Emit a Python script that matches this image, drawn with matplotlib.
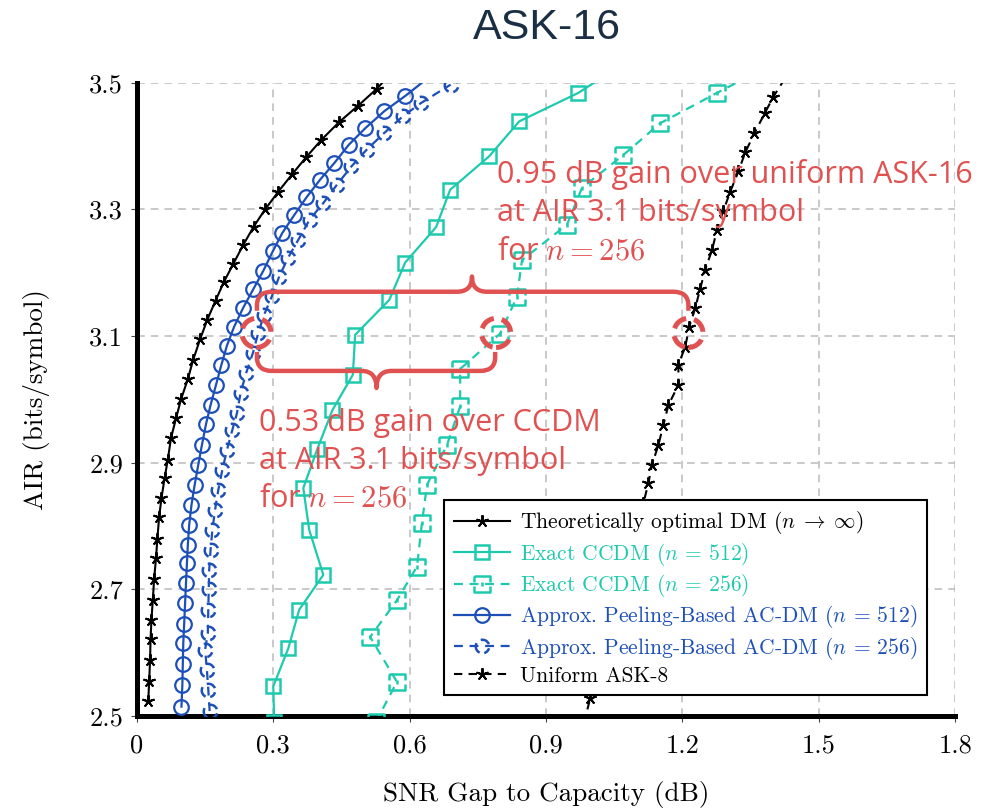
import numpy as np
import matplotlib.pyplot as plt
from matplotlib.path import Path
from matplotlib.patches import PathPatch, Ellipse

plt.rcParams['font.family'] = ['cmr10', 'DejaVu Serif']
plt.rcParams['mathtext.fontset'] = 'cm'
plt.rcParams['axes.formatter.use_mathtext'] = True

# ---- data ----
opt_y = [2.524, 2.555, 2.589, 2.621, 2.652, 2.684, 2.717, 2.749, 2.780, 2.815, 2.844,
         2.876, 2.905, 2.939, 2.970, 3.000, 3.032, 3.063, 3.095, 3.126, 3.156, 3.185,
         3.214, 3.244, 3.273, 3.300, 3.328, 3.356, 3.383, 3.410, 3.438, 3.464, 3.490, 3.535]
opt_x = [0.025, 0.027, 0.029, 0.030, 0.032, 0.035, 0.038, 0.042, 0.045, 0.049, 0.054,
         0.061, 0.068, 0.075, 0.086, 0.097, 0.112, 0.124, 0.139, 0.155, 0.173, 0.191,
         0.212, 0.234, 0.257, 0.282, 0.311, 0.342, 0.373, 0.406, 0.445, 0.487, 0.527, 0.585]

ccdm512_y = [2.49, 2.547, 2.607, 2.668, 2.723, 2.794, 2.860, 2.922, 2.983, 3.039, 3.102,
             3.157, 3.216, 3.272, 3.331, 3.384, 3.439, 3.484, 3.53]
ccdm512_x = [0.302, 0.300, 0.333, 0.357, 0.410, 0.379, 0.366, 0.397, 0.430, 0.475, 0.480,
             0.555, 0.590, 0.658, 0.689, 0.775, 0.841, 0.971, 1.07]

ccdm256_y = [2.49, 2.554, 2.625, 2.683, 2.736, 2.805, 2.865, 2.928, 2.989, 3.048, 3.104,
             3.162, 3.220, 3.276, 3.334, 3.386, 3.436, 3.484, 3.53]
ccdm256_x = [0.525, 0.572, 0.513, 0.572, 0.616, 0.627, 0.638, 0.682, 0.711, 0.711, 0.799,
             0.836, 0.847, 0.946, 0.979, 1.070, 1.151, 1.276, 1.40]

ac512_y = [2.515, 2.549, 2.583, 2.615, 2.646, 2.678, 2.710, 2.741, 2.770, 2.802, 2.833,
           2.865, 2.897, 2.928, 2.961, 2.991, 3.023, 3.055, 3.085, 3.115, 3.145, 3.174,
           3.203, 3.234, 3.263, 3.291, 3.319, 3.347, 3.373, 3.402, 3.428, 3.455, 3.479, 3.53]
ac512_x = [0.098, 0.100, 0.101, 0.102, 0.104, 0.106, 0.108, 0.110, 0.112, 0.115, 0.120,
           0.127, 0.135, 0.143, 0.152, 0.162, 0.174, 0.186, 0.198, 0.214, 0.234, 0.256,
           0.278, 0.299, 0.320, 0.346, 0.373, 0.403, 0.434, 0.466, 0.502, 0.544, 0.590, 0.68]

ac256_y = [2.508, 2.542, 2.573, 2.605, 2.631, 2.668, 2.700, 2.731, 2.762, 2.794, 2.826,
           2.857, 2.889, 2.920, 2.952, 2.978, 3.010, 3.041, 3.073, 3.105, 3.134, 3.163,
           3.194, 3.223, 3.252, 3.284, 3.310, 3.339, 3.368, 3.394, 3.420, 3.447, 3.468, 3.497]
ac256_x = [0.160, 0.157, 0.154, 0.150, 0.156, 0.157, 0.158, 0.159, 0.162, 0.166, 0.172,
           0.179, 0.188, 0.198, 0.210, 0.220, 0.228, 0.240, 0.255, 0.267, 0.280, 0.297,
           0.313, 0.332, 0.355, 0.380, 0.410, 0.440, 0.472, 0.505, 0.543, 0.585, 0.625, 0.690]

unif_y = [2.466, 2.528, 2.559, 2.590, 2.621, 2.652, 2.683, 2.714, 2.745, 2.775, 2.805,
          2.836, 2.868, 2.897, 2.928, 2.960, 2.991, 3.023, 3.055, 3.083, 3.115, 3.144,
          3.175, 3.205, 3.236, 3.268, 3.298, 3.328, 3.360, 3.390, 3.420, 3.452, 3.478, 3.535]
unif_x = [0.975, 0.997, 1.010, 1.022, 1.035, 1.048, 1.060, 1.072, 1.083, 1.093, 1.103,
          1.114, 1.125, 1.133, 1.147, 1.158, 1.169, 1.191, 1.191, 1.206, 1.215, 1.228,
          1.239, 1.250, 1.265, 1.276, 1.290, 1.305, 1.323, 1.338, 1.358, 1.381, 1.400, 1.45]

xticks = [0, 0.3, 0.6, 0.9, 1.2, 1.5, 1.8]
xticklabels = ['0', '0.3', '0.6', '0.9', '1.2', '1.5', '1.8']
yticks = [2.5, 2.7, 2.9, 3.1, 3.3, 3.5]

black = '#000000'
teal = '#1ecaae'
blue = '#1d4fb8'
red = '#e05252'


# dashed markers, like pgfplots draws them when marks inherit the dash pattern
def dashed_circle():
    parts = [Path.arc(20, 105), Path.arc(150, 245), Path.arc(285, 345)]
    return Path.make_compound_path(*parts)


def dashed_square():
    v = [(-1, 1), (1, 1), (1, 0.3), (1, -0.3), (1, -1), (-1, -1), (-1, -0.3), (-1, 0.3), (-1, 1),
         (0, 0.3), (0, -0.3)]
    c = [Path.MOVETO, Path.LINETO, Path.LINETO, Path.MOVETO, Path.LINETO, Path.LINETO,
         Path.LINETO, Path.MOVETO, Path.LINETO, Path.MOVETO, Path.LINETO]
    return Path(v, c)


fig = plt.figure(figsize=(9.92, 8.11), dpi=100)
ax = fig.add_axes([0.138, 0.117, 0.825, 0.781])

star = (5, 2, 0)
ax.plot(opt_x, opt_y, color=black, lw=1.5, marker=star, ms=9, mew=1.4,
        label=r'Theoretically optimal DM ($n\;\rightarrow\;\infty$)', zorder=5)
ax.plot(ccdm512_x, ccdm512_y, color=teal, lw=1.6, marker='s', ms=10, mew=1.8, mfc='none',
        label=r'Exact CCDM ($n$ = 512)', zorder=4)
ax.plot(ccdm256_x, ccdm256_y, color=teal, lw=1.6, dashes=(4, 3), marker=dashed_square(),
        ms=11, mew=1.8, mfc='none', label=r'Exact CCDM ($n$ = 256)', zorder=4)
ax.plot(ac512_x, ac512_y, color=blue, lw=1.6, marker='o', ms=10.5, mew=1.6, mfc='none',
        label=r'Approx. Peeling-Based AC-DM ($n$ = 512)', zorder=4)
ax.plot(ac256_x, ac256_y, color=blue, lw=1.6, dashes=(4, 3), marker=dashed_circle(),
        ms=10, mew=1.8, mfc='none', label=r'Approx. Peeling-Based AC-DM ($n$ = 256)', zorder=4)
ax.plot(unif_x, unif_y, color=black, lw=1.5, dashes=(4, 3), marker=star, ms=9, mew=1.4,
        label='Uniform ASK-8', zorder=4)

ax.set_xlim(0, 1.8)
ax.set_ylim(2.5, 3.5)
ax.set_xticks(xticks)
ax.set_xticklabels(xticklabels)
ax.set_yticks(yticks)
ax.set_yticklabels(['%.1f' % v for v in yticks])
ax.tick_params(labelsize=19, direction='out', length=4, width=0.8, color='#444444')
ax.tick_params(axis='x', pad=9)
ax.tick_params(axis='y', pad=6)
ax.grid(True, color='#bbbbbb', lw=1.1, linestyle=(0, (5, 4)))
for s in ['top', 'right']:
    ax.spines[s].set_visible(False)
for s in ['left', 'bottom']:
    ax.spines[s].set_linewidth(3.6)

ax.set_xlabel('SNR Gap to Capacity (dB)', fontsize=19.5)
ax.set_ylabel('AIR (bits/symbol)', fontsize=19.5)
ax.xaxis.set_label_coords(0.5, -0.102)
ax.yaxis.set_label_coords(-0.106, 0.5)

leg = ax.legend(loc='lower right', bbox_to_anchor=(0.966, 0.033), borderaxespad=0,
                fontsize=15.5, labelcolor='linecolor', fancybox=False, framealpha=1,
                edgecolor='black', handlelength=2.6, labelspacing=0.2, borderpad=0.45,
                handletextpad=0.5)
leg.get_frame().set_linewidth(1.5)
leg.set_zorder(10)

fig.text(0.551, 0.966, 'ASK-16', ha='center', va='center', fontsize=31,
         family='Liberation Sans', color='#1b2f44')


# curly braces and dashed rings
def brace(x0, x1, xt, yline, ytip, yend, rx=0.033, ry=0.022):
    sgn = 1 if yend > yline else -1
    v = [(x0, yend), (x0, yline + sgn * ry), (x0, yline), (x0 + rx, yline),
         (xt - rx, yline), (xt, yline), (xt, ytip), (xt, yline), (xt + rx, yline),
         (x1 - rx, yline), (x1, yline), (x1, yline + sgn * ry), (x1, yend)]
    c = [Path.MOVETO, Path.LINETO, Path.CURVE3, Path.CURVE3,
         Path.LINETO, Path.CURVE3, Path.CURVE3, Path.CURVE3, Path.CURVE3,
         Path.LINETO, Path.CURVE3, Path.CURVE3, Path.LINETO]
    ax.add_patch(PathPatch(Path(v, c), fc='none', ec=red, lw=3.2, zorder=8,
                           capstyle='butt', joinstyle='round'))


brace(0.264, 1.213, 0.737, 3.170, 3.194, 3.140)
brace(0.264, 0.788, 0.527, 3.045, 3.018, 3.075)

for cx in [0.263, 0.790, 1.213]:
    ax.add_patch(Ellipse((cx, 3.105), 0.064, 0.046, fc='none', ec=red, lw=3.6,
                         linestyle=(0, (3.2, 1.6)), zorder=9))

ann_font = 'Open Sans'
ax.text(0.792, 3.379, '0.95 dB gain over uniform ASK-16\nat AIR 3.1 bits/symbol\nfor $n=256$',
        fontsize=22, family=ann_font, color=red, ha='left', va='top', linespacing=1.35,
        zorder=9)
ax.text(0.268, 2.987, '0.53 dB gain over CCDM\nat AIR 3.1 bits/symbol\nfor $n=256$',
        fontsize=22, family=ann_font, color=red, ha='left', va='top', linespacing=1.35,
        zorder=9)

plt.savefig('out.png', dpi=100)
